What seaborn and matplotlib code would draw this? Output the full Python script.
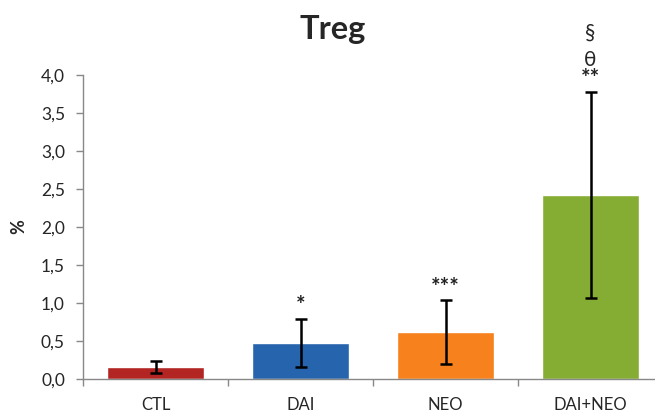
import matplotlib
matplotlib.use("Agg")
import matplotlib.pyplot as plt
import seaborn as sns
import pandas as pd

# Treg frequencies per group (mean and SD)
groups = ["CTL", "DAI", "NEO", "DAI+NEO"]
means = [0.155, 0.475, 0.62, 2.42]
sds = [0.08, 0.32, 0.42, 1.36]
marks = ["", "*", "***", "**"]
colors = ["#B22523", "#2764AE", "#F7811D", "#86AD33"]
yticks = [0.0, 0.5, 1.0, 1.5, 2.0, 2.5, 3.0, 3.5, 4.0]

sns.set_theme(style="white")
plt.rcParams["font.family"] = ["Lato", "DejaVu Sans"]

W, H = 655, 412
fig = plt.figure(figsize=(W / 100, H / 100), dpi=100)
ax = fig.add_axes([83 / W, (H - 379) / H, 580 / W, 304 / H])

df = pd.DataFrame({"group": groups, "mean": means})
sns.barplot(data=df, x="group", y="mean", hue="group", palette=colors,
            width=0.67, legend=False, ax=ax, saturation=1)
ax.errorbar(range(len(groups)), means, yerr=sds, fmt="none",
            ecolor="black", elinewidth=1.8, capsize=4, capthick=1.8, zorder=5)

for i, (m, s, t) in enumerate(zip(means, sds, marks)):
    if t:
        ax.text(i, m + s + 0.03, t, ha="center", va="bottom", fontsize=16,
                fontweight="bold", color="#222222", clip_on=False)
# extra significance symbols for the combined group
ax.text(3, 4.07, "θ", ha="center", va="bottom", fontsize=15, clip_on=False)
ax.text(3, 4.42, "§", ha="center", va="bottom", fontsize=15, clip_on=False)

ax.set_xlim(-0.5, 3.5)
ax.set_ylim(0, 4.0)
ax.set_yticks(yticks)
ax.set_yticklabels([f"{v:.1f}".replace(".", ",") for v in yticks], fontsize=12.5)
ax.set_xticks([-0.5, 0.5, 1.5, 2.5, 3.5])
ax.set_xticklabels([])
ax.tick_params(axis="x", which="major", direction="out", length=5, width=1, color="#888888", bottom=True)
ax.tick_params(axis="y", direction="out", length=5, width=1, color="#888888", left=True, pad=8)
for i, g in enumerate(groups):
    ax.text(i, -0.235, g, ha="center", va="top", fontsize=12, clip_on=False)

ax.set_xlabel("")
ax.set_ylabel("%", fontsize=13, fontweight="bold", labelpad=10)
for side in ["top", "right"]:
    ax.spines[side].set_visible(False)
for side in ["left", "bottom"]:
    ax.spines[side].set_color("#888888")
    ax.spines[side].set_linewidth(1)

fig.text(333 / W, 1 - 30 / H, "Treg", ha="center", va="center",
         fontsize=23.5, fontweight="bold")

fig.savefig("out.png", dpi=100)
